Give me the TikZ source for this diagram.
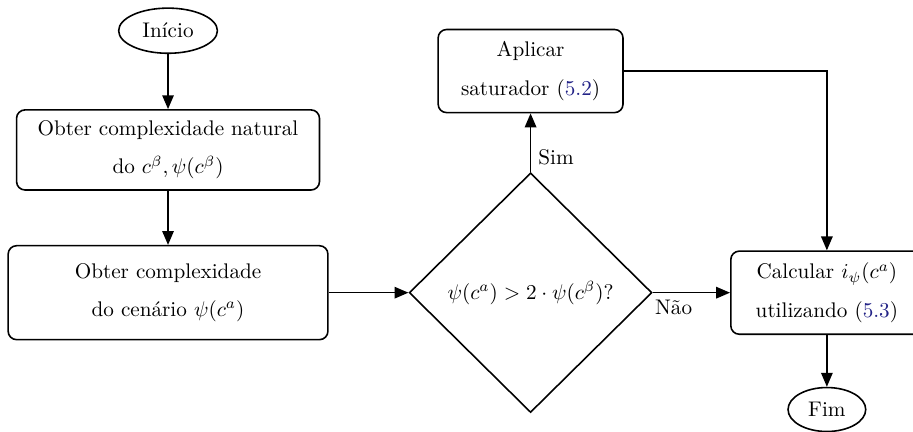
\documentclass[tikz,border=0pt]{standalone}
\usepackage{amsmath,amssymb}
\usepackage{tikz}
\usetikzlibrary{arrows.meta,positioning,calc,shapes.geometric}
\definecolor{refblue}{RGB}{35,35,135}
\newcommand{\refnum}[1]{(\textcolor{refblue}{#1})}

\begin{document}
\begin{tikzpicture}[
  font=\normalsize,
  proc/.style={draw=black, line width=0.75pt, rounded corners=4pt, align=center, minimum width=#1, minimum height=1.36cm, inner sep=2pt},
  proc/.default=5.03cm,
  term/.style={draw=black, line width=0.75pt, ellipse, inner sep=1pt},
  dec/.style={draw=black, line width=0.75pt, diamond, aspect=1, inner sep=0pt, minimum width=4.03cm, minimum height=3.98cm},
  arr/.style={-{Triangle[length=2.3mm,width=1.9mm]}, line width=0.75pt, black},
  ]
\useasboundingbox (0,0) rectangle (15.16,7.17);
% left column
\node[term, minimum width=1.64cm, minimum height=0.75cm] (ini) at (2.79,6.66) {Início};
\node[proc=5.03cm, minimum height=1.33cm] (nat) at (2.79,4.68) {Obter complexidade natural\\[6pt] do $c^\beta, \psi(c^\beta)$};
\node[proc=5.31cm, minimum height=1.56cm] (cen) at (2.79,2.31) {Obter complexidade\\[6pt] do cenário $\psi(c^a)$};
% decision
\node[dec] (cmp) at (8.81,2.31) {$\psi(c^a) > 2\cdot\psi(c^\beta)$?};
\node[proc=3.07cm, minimum height=1.38cm] (sat) at (8.81,5.99) {Aplicar\\[6pt] saturador \refnum{5.2}};
% right column
\node[proc=3.19cm, minimum height=1.38cm] (calc) at (13.73,2.31) {Calcular $i_\psi(c^a)$\\[6pt] utilizando \refnum{5.3}};
\node[term, minimum width=1.29cm, minimum height=0.73cm] (fim) at (13.73,0.37) {Fim};
% arrows
\draw[arr] (ini.south) -- (nat.north);
\draw[arr] (nat.south) -- (cen.north);
\draw[arr] (cen.east) -- (cmp.west);
\draw[arr] (cmp.north) -- node[pos=0.25, right] {Sim} (sat.south);
\draw[arr] (cmp.east) -- node[pos=0.27, below] {Não} (calc.west);
\draw[arr] (sat.east) -| (calc.north);
\draw[arr] (calc.south) -- (fim.north);
\end{tikzpicture}
\end{document}
